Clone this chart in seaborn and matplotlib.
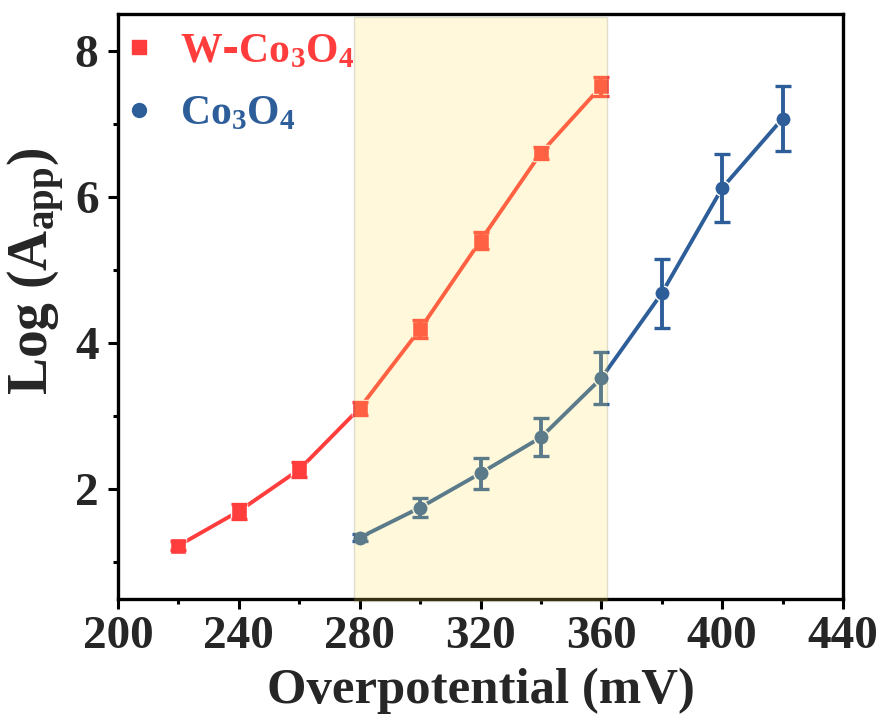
import matplotlib
matplotlib.use("Agg")
import matplotlib.pyplot as plt
from matplotlib.lines import Line2D
from matplotlib.ticker import MultipleLocator
import numpy as np
import pandas as pd
import seaborn as sns

# Apparent activity (log scale) versus overpotential for the two catalysts
w_overpotential = [220, 240, 260, 280, 300, 320, 340, 360]
w_log_aapp = [1.23, 1.70, 2.27, 3.11, 4.19, 5.40, 6.60, 7.51]
w_err = [0.06, 0.10, 0.10, 0.09, 0.12, 0.12, 0.08, 0.13]

co_overpotential = [280, 300, 320, 340, 360, 380, 400, 420]
co_log_aapp = [1.34, 1.75, 2.22, 2.71, 3.52, 4.68, 6.12, 7.07]
co_err = [0.05, 0.13, 0.21, 0.26, 0.36, 0.47, 0.46, 0.44]

sample_names = ["W-Co3O4", "Co3O4"]
legend_labels = [r"$\mathregular{W\text{-}Co_3O_4}$", r"$\mathregular{Co_3O_4}$"]
sample_colors = ["#FF3D3D", "#2E5E9A"]
sample_markers = ["s", "o"]

# highlighted overpotential window
window = (278, 362)

df = pd.DataFrame({
    "Overpotential": w_overpotential + co_overpotential,
    "LogA": w_log_aapp + co_log_aapp,
    "Err": w_err + co_err,
    "Sample": [sample_names[0]] * len(w_overpotential) + [sample_names[1]] * len(co_overpotential),
})

sns.set_theme(style="ticks")
plt.rcParams["font.family"] = ["Liberation Serif", "DejaVu Serif"]
plt.rcParams["font.weight"] = "bold"
plt.rcParams["mathtext.default"] = "regular"

fig = plt.figure(figsize=(8.84, 7.24), dpi=100)
ax = fig.add_axes([118 / 884, 1 - 599 / 724, (843 - 118) / 884, (599 - 14) / 724])

palette = dict(zip(sample_names, sample_colors))
sns.lineplot(
    data=df, x="Overpotential", y="LogA", hue="Sample", style="Sample",
    markers=dict(zip(sample_names, sample_markers)), dashes=False,
    palette=palette, linewidth=2.8, markersize=11,
    markeredgecolor="white", markeredgewidth=1.0,
    legend=False, ax=ax, zorder=3,
)

for name in sample_names:
    sub = df[df["Sample"] == name]
    ax.errorbar(
        sub["Overpotential"], sub["LogA"], yerr=sub["Err"], fmt="none",
        ecolor=palette[name], elinewidth=2.8, capsize=5.5, capthick=2.4, zorder=3,
    )

span = ax.axvspan(window[0], window[1], ymin=-0.0028, ymax=0.995,
                  facecolor=(1.0, 0.89, 0.34), edgecolor=(0.45, 0.45, 0.35),
                  linewidth=1.0, alpha=0.22, zorder=4)
span.set_clip_on(False)

ax.set_xlim(200, 440)
ax.set_ylim(0.5, 8.5)
ax.xaxis.set_major_locator(MultipleLocator(40))
ax.xaxis.set_minor_locator(MultipleLocator(20))
ax.set_yticks([2, 4, 6, 8])
ax.yaxis.set_minor_locator(MultipleLocator(1))

for side in ["left", "right", "top", "bottom"]:
    ax.spines[side].set_linewidth(2.4)
    ax.spines[side].set_color("black")

ax.tick_params(which="major", direction="out", length=7, width=2.2, color="black",
               labelsize=34, pad=5)
ax.tick_params(which="minor", direction="out", length=3.5, width=2.2, color="black")
ax.tick_params(axis="y", which="major", pad=7)
for lab in ax.get_xticklabels() + ax.get_yticklabels():
    lab.set_fontweight("bold")

ax.set_xlabel("Overpotential (mV)", fontsize=36.5, fontweight="bold", labelpad=7)
ax.set_ylabel(r"Log (A$_{\mathregular{app}}$)", fontsize=40, fontweight="bold")
ax.yaxis.set_label_coords(-0.07, 0.56)

handles = [
    Line2D([], [], linestyle="none", marker=m, color=c, markersize=10)
    for m, c in zip(sample_markers, sample_colors)
]
leg = ax.legend(
    handles, legend_labels, loc="upper left", bbox_to_anchor=(0.0, 0.975),
    frameon=False, handlelength=0.8, handletextpad=0.6,
    labelspacing=0.58, borderpad=0.1, borderaxespad=0.0,
    prop={"weight": "bold", "size": 30},
)
for txt, c in zip(leg.get_texts(), sample_colors):
    txt.set_color(c)

fig.savefig("out.png", dpi=100)
